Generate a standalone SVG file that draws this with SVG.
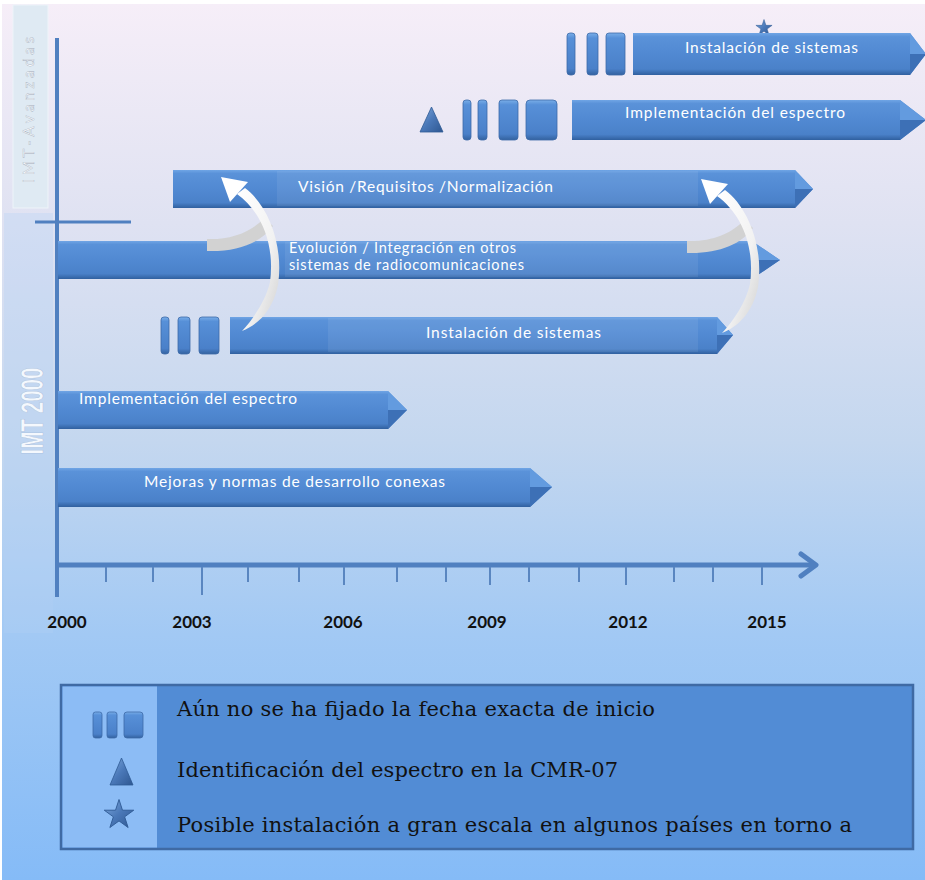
<svg xmlns="http://www.w3.org/2000/svg" width="925" height="880" viewBox="0 0 925 880">
<style>
.bt{font-family:Lato,"Open Sans","Liberation Sans",sans-serif;font-size:15.5px;fill:#ffffff;}
.yr{font-family:Lato,"Liberation Sans",sans-serif;font-size:17px;font-weight:bold;fill:#111111;text-anchor:middle;}
.lg{font-family:"DejaVu Serif","Liberation Serif",serif;font-size:21px;fill:#111111;}
.ax{stroke:#5080c0;fill:none;}
.tk{stroke:#5a86c0;stroke-width:2;}
.tipU{fill:#639bdf;}
.tipD{fill:#3d70b6;}
.mid{fill:#ffffff;opacity:0.07;}
.blk{fill:url(#blkG);stroke:#3c6aa8;stroke-width:0.8;}
</style>
<defs>
<linearGradient id="bg" x1="0" y1="0" x2="0" y2="1">
<stop offset="0" stop-color="#f6eef8"/>
<stop offset="0.25" stop-color="#dfe2f2"/>
<stop offset="0.5" stop-color="#c4d7ef"/>
<stop offset="0.72" stop-color="#a2c9f4"/>
<stop offset="1" stop-color="#85bbf7"/>
</linearGradient>
<linearGradient id="barG" x1="0" y1="0" x2="0" y2="1">
<stop offset="0" stop-color="#70a5e5"/>
<stop offset="0.09" stop-color="#5a92d9"/>
<stop offset="0.5" stop-color="#5189d2"/>
<stop offset="0.86" stop-color="#4a81c9"/>
<stop offset="1" stop-color="#30609f"/>
</linearGradient>
<linearGradient id="blkG" x1="0" y1="0" x2="0" y2="1">
<stop offset="0" stop-color="#7aaee8"/>
<stop offset="0.12" stop-color="#5790d8"/>
<stop offset="0.85" stop-color="#4a80c9"/>
<stop offset="1" stop-color="#33629f"/>
</linearGradient>
<linearGradient id="symG" x1="0" y1="0" x2="1" y2="1">
<stop offset="0" stop-color="#7ea9dd"/>
<stop offset="0.5" stop-color="#4a78b8"/>
<stop offset="1" stop-color="#2e5791"/>
</linearGradient>
<linearGradient id="crvG" x1="0" y1="0" x2="1" y2="1">
<stop offset="0" stop-color="#ffffff"/>
<stop offset="0.6" stop-color="#f2f2f2"/>
<stop offset="1" stop-color="#cfcfcf"/>
</linearGradient>
<path id="star" d="M0,-10 L2.245,-3.09 L9.51,-3.09 L3.633,1.18 L5.878,8.09 L0,3.82 L-5.878,8.09 L-3.633,1.18 L-9.51,-3.09 L-2.245,-3.09 Z" fill="url(#symG)" stroke="#2f5a94" stroke-width="0.6"/>
<g id="curve">
<path d="M207,239 C230,240 252,232 264,218 L273,226 C262,242 238,252 207,251 Z" fill="#d2d2d2"/>
<path d="M245,188 C268,205 284,245 278,285 C273,310 258,325 242,331 C254,318 266,300 270,282 C275,245 262,212 237,194 Z" fill="url(#crvG)"/>
<path d="M221,177 L248,182 L230,202 Z" fill="#ffffff"/>
</g>
</defs>

<rect x="0" y="0" width="925" height="880" fill="#ffffff"/>
<rect x="2" y="4" width="923" height="876" fill="url(#bg)"/>

<g id="labels-left">
<rect x="13" y="5" width="35" height="203" fill="#dfeaf3" stroke="#eef4f9" stroke-width="1"/>
<rect x="4" y="213" width="49" height="420" fill="#b3d2f5" opacity="0.3"/>
<text transform="translate(34,110) rotate(-90)" text-anchor="middle" textLength="146" style="font-family:Lato,'Liberation Sans',sans-serif;font-size:15px;fill:#f7f9fb;stroke:#9aa6b6;stroke-width:0.35">IMT-Avanzadas</text>
<text transform="translate(43,411) rotate(-90)" text-anchor="middle" textLength="87" lengthAdjust="spacingAndGlyphs" style="font-family:'Liberation Sans',sans-serif;font-size:31px;font-weight:bold;fill:#f4f8fd;stroke:#9bb3d2;stroke-width:0.4">IMT 2000</text>
</g>

<g id="axes">
<line class="ax" x1="57" y1="38" x2="57" y2="597" stroke-width="4"/>
<line class="ax" x1="35" y1="222" x2="131" y2="222" stroke-width="3"/>
<line class="ax" x1="57" y1="565" x2="812" y2="565" stroke-width="5"/>
<polyline class="ax" points="801,554 816,565 801,576" stroke-width="5" stroke-linecap="round" stroke-linejoin="round"/>
<line class="tk" x1="106" y1="567" x2="106" y2="582"/>
<line class="tk" x1="153" y1="567" x2="153" y2="582"/>
<line class="tk" x1="202" y1="567" x2="202" y2="595"/>
<line class="tk" x1="248" y1="567" x2="248" y2="582"/>
<line class="tk" x1="299" y1="567" x2="299" y2="582"/>
<line class="tk" x1="344" y1="567" x2="344" y2="585"/>
<line class="tk" x1="397" y1="567" x2="397" y2="582"/>
<line class="tk" x1="446" y1="567" x2="446" y2="582"/>
<line class="tk" x1="490" y1="567" x2="490" y2="585"/>
<line class="tk" x1="529" y1="567" x2="529" y2="582"/>
<line class="tk" x1="579" y1="567" x2="579" y2="582"/>
<line class="tk" x1="626" y1="567" x2="626" y2="585"/>
<line class="tk" x1="674" y1="567" x2="674" y2="582"/>
<line class="tk" x1="713" y1="567" x2="713" y2="582"/>
<line class="tk" x1="762" y1="567" x2="762" y2="585"/>
<text class="yr" x="67" y="628">2000</text>
<text class="yr" x="192" y="628">2003</text>
<text class="yr" x="343" y="628">2006</text>
<text class="yr" x="487" y="628">2009</text>
<text class="yr" x="628" y="628">2012</text>
<text class="yr" x="767" y="628">2015</text>
</g>

<g id="star-top">
<use href="#star" transform="translate(764,28) scale(0.85)"/>
</g>

<g id="bar1">
<rect class="blk" x="567" y="33" width="8" height="42" rx="3"/>
<rect class="blk" x="587" y="33" width="11" height="42" rx="3"/>
<rect class="blk" x="606" y="33" width="19" height="42" rx="3"/>
<path d="M633,33 H910 L926,54 L910,75 H633 Z" fill="url(#barG)"/>
<path class="tipU" d="M910,33 L926,54 L910,54 Z"/>
<path class="tipD" d="M910,54 L926,54 L910,75 Z"/>
<text class="bt" x="685" y="53" textLength="173">Instalación de sistemas</text>
</g>

<g id="bar2">
<path d="M420,132 L443,132 L431.5,107 Z" fill="url(#symG)" stroke="#2f5a94" stroke-width="0.8"/>
<rect class="blk" x="463" y="100" width="8" height="40" rx="3"/>
<rect class="blk" x="478" y="100" width="9" height="40" rx="3"/>
<rect class="blk" x="499" y="100" width="19" height="40" rx="3"/>
<rect class="blk" x="526" y="100" width="31" height="40" rx="4"/>
<path d="M572,100 H900 L926,120 L900,140 H572 Z" fill="url(#barG)"/>
<path class="tipU" d="M900,100 L926,120 L900,120 Z"/>
<path class="tipD" d="M900,120 L926,120 L900,140 Z"/>
<text class="bt" x="625" y="118" textLength="220">Implementación del espectro</text>
</g>

<g id="bar3">
<path d="M173,170 H795 L813,189 L795,208 H173 Z" fill="url(#barG)"/>
<rect class="mid" x="277" y="171" width="421" height="35"/>
<path class="tipU" d="M795,170 L813,189 L795,189 Z"/>
<path class="tipD" d="M795,189 L813,189 L795,208 Z"/>
<text class="bt" x="298" y="192" textLength="255">Visión /Requisitos /Normalización</text>
</g>

<g id="bar4">
<path d="M58,241 H752 L780,260 L752,279 H58 Z" fill="url(#barG)"/>
<rect class="mid" x="285" y="242" width="413" height="35"/>
<path class="tipU" d="M752,241 L780,260 L752,260 Z"/>
<path class="tipD" d="M752,260 L780,260 L752,279 Z"/>
<text class="bt" style="font-size:14.5px" x="289" y="253" textLength="227">Evolución / Integración en otros</text>
<text class="bt" style="font-size:14.5px" x="289" y="270" textLength="235">sistemas de radiocomunicaciones</text>
</g>

<g id="bar5">
<rect class="blk" x="161" y="317" width="8" height="37" rx="3"/>
<rect class="blk" x="178" y="317" width="12" height="37" rx="3"/>
<rect class="blk" x="199" y="317" width="20" height="37" rx="3"/>
<path d="M230,317 H717 L733,335 L717,354 H230 Z" fill="url(#barG)"/>
<rect class="mid" x="328" y="318" width="370" height="34"/>
<path class="tipU" d="M717,317 L733,335 L717,335 Z"/>
<path class="tipD" d="M717,335 L733,335 L717,354 Z"/>
<text class="bt" x="426" y="338" textLength="175">Instalación de sistemas</text>
</g>

<g id="bar6">
<path d="M58,391 H388 L407,410 L388,429 H58 Z" fill="url(#barG)"/>
<path class="tipU" d="M388,391 L407,410 L388,410 Z"/>
<path class="tipD" d="M388,410 L407,410 L388,429 Z"/>
<text class="bt" x="79" y="404" textLength="218">Implementación del espectro</text>
</g>

<g id="bar7">
<path d="M58,468 H530 L552,487 L530,507 H58 Z" fill="url(#barG)"/>
<path class="tipU" d="M530,468 L552,487 L530,487 Z"/>
<path class="tipD" d="M530,487 L552,487 L530,507 Z"/>
<text class="bt" x="144" y="487" textLength="301">Mejoras y normas de desarrollo conexas</text>
</g>

<g id="connectors">
<use href="#curve"/>
<use href="#curve" transform="translate(480,2)"/>
</g>

<g id="legend">
<rect x="61" y="685" width="852" height="164" fill="#528cd5" stroke="#3f6aa4" stroke-width="2.5"/>
<rect x="62.5" y="686.5" width="94.5" height="161" fill="#8cbcf5"/>
<rect class="blk" x="93" y="712" width="9" height="26" rx="2.5"/>
<rect class="blk" x="107" y="712" width="10" height="26" rx="2.5"/>
<rect class="blk" x="124" y="712" width="19" height="26" rx="3"/>
<path d="M110,785 L133,785 L121.5,758 Z" fill="url(#symG)" stroke="#2f5a94" stroke-width="0.8"/>
<use href="#star" transform="translate(119,815) scale(1.55)"/>
<text class="lg" x="177" y="716" textLength="478">Aún no se ha fijado la fecha exacta de inicio</text>
<text class="lg" x="177" y="777" textLength="441">Identificación del espectro en la CMR-07</text>
<text class="lg" x="177" y="832" textLength="675">Posible instalación a gran escala en algunos países en torno a</text>
</g>
</svg>
